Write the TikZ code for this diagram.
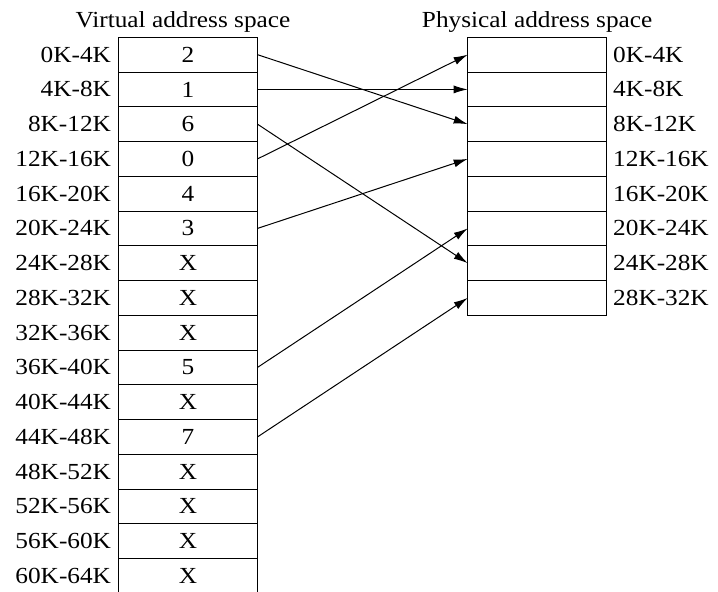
\documentclass[tikz,border=0pt]{standalone}
\usepackage{fontspec}
\setmainfont[FakeStretch=1.1]{Liberation Serif}
\usetikzlibrary{arrows.meta}

\begin{document}
\begin{tikzpicture}[x=0.5pt,y=-0.5pt,line width=0.5pt,
  every node/.style={font=\fontsize{11.5}{14}\selectfont},
  cell/.style={draw,minimum width=69.5pt,minimum height=17.375pt,inner sep=0pt,outer sep=0pt},
  map/.style={-{Latex[length=7pt,width=4pt]}}]

% Define table parameters
\def\top{37.3}      %Top edge of both tables.
\def\rowh{34.75}    %Row height.
\def\vx{188}        %Centre of virtual table.
\def\px{537.2}      %Centre of physical table.

\useasboundingbox (0,0) rectangle (718,592);

% Virtual address space
\foreach \pg [count=\i from 0] in {2,1,6,0,4,3,X,X,X,5,X,7,X,X,X,X}{
  \pgfmathtruncatemacro\lo{4*\i}
  \pgfmathtruncatemacro\hi{4*\i+4}
  \node[cell] (v\i) at (\vx,{\top+(\i+0.5)*\rowh}) {\pg};
  \node[anchor=east,inner sep=0pt] (vl\i) at ([xshift=-3.5pt]v\i.west) {\lo K-\hi K};
}
\node[anchor=base] (vt) at ([xshift=-2.5pt,yshift=4.7pt]v0.north) {Virtual address space};

% Physical address space
\foreach \i in {0,...,7}{
  \pgfmathtruncatemacro\lo{4*\i}
  \pgfmathtruncatemacro\hi{4*\i+4}
  \node[cell] (p\i) at (\px,{\top+(\i+0.5)*\rowh}) {};
  \node[anchor=west,inner sep=0pt] (pl\i) at ([xshift=3pt]p\i.east) {\lo K-\hi K};
}
\node[anchor=base] (pt) at ([yshift=4.7pt]p0.north) {Physical address space};

% Page mappings
\foreach \v/\p in {0/2,1/1,2/6,3/0,5/3,9/5,11/7}
  \draw[map] (v\v.east) -- (p\p.west);

\end{tikzpicture}
\end{document}
